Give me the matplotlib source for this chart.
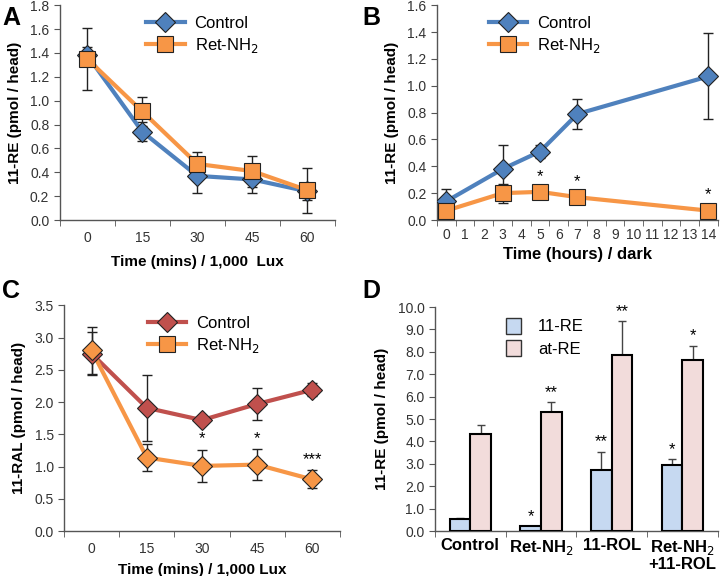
import matplotlib.pyplot as plt
import numpy as np
from matplotlib.lines import Line2D
from matplotlib.patches import Patch

plt.rcParams['font.family'] = ['Liberation Sans', 'DejaVu Sans']

# DATA
# Panel A - light, 11-RE
a_times = ['0', '15', '30', '45', '60']
a_ctrl = [1.38, 0.74, 0.37, 0.34, 0.24]
a_ctrl_err = [0.07, 0.08, 0.14, 0.11, 0.07]
a_ret = [1.35, 0.91, 0.47, 0.41, 0.25]
a_ret_err = [0.26, 0.12, 0.10, 0.13, 0.19]

# Panel B - dark, 11-RE
b_hours = [str(h) for h in range(15)]
b_x = [0, 3, 5, 7, 14]
b_ctrl = [0.14, 0.38, 0.51, 0.79, 1.07]
b_ctrl_err = [0.09, 0.18, 0.05, 0.11, 0.32]
b_ret = [0.07, 0.20, 0.21, 0.17, 0.07]
b_ret_err = [0.03, 0.07, 0.03, 0.03, 0.02]
b_stars = {5: '*', 7: '*', 14: '*'}

# Panel C - light, 11-RAL
c_times = ['0', '15', '30', '45', '60']
c_ctrl = [2.75, 1.91, 1.72, 1.97, 2.19]
c_ctrl_err = [0.33, 0.51, 0.05, 0.25, 0.10]
c_ret = [2.80, 1.14, 1.01, 1.03, 0.80]
c_ret_err = [0.36, 0.21, 0.25, 0.24, 0.14]
c_stars = ['', '', '*', '*', '***']

# Panel D - retinyl esters
d_groups = ['Control', 'Ret-NH$_2$', '11-ROL', 'Ret-NH$_2$\n+11-ROL']
d_11re = [0.52, 0.22, 2.72, 2.95]
d_11re_err = [0.05, 0.0, 0.83, 0.27]
d_atre = [4.32, 5.33, 7.86, 7.63]
d_atre_err = [0.43, 0.42, 1.50, 0.65]
d_11re_stars = ['', '*', '**', '*']
d_atre_stars = ['', '**', '**', '*']

blue = '#4F81BD'
orange = '#F79646'
red = '#C0504D'
tickcol = '#333333'

fig = plt.figure(figsize=(7.2, 5.76), dpi=100)


def style_axes(ax, ncat, ylim, yticks, yfmt):
	ax.spines['top'].set_visible(False)
	ax.spines['right'].set_visible(False)
	for s in ['left', 'bottom']:
		ax.spines[s].set_color('#555555')
		ax.spines[s].set_linewidth(1.0)
	ax.set_xlim(-0.5, ncat - 0.5)
	ax.set_ylim(*ylim)
	ax.set_yticks(yticks)
	ax.set_yticklabels([yfmt % v for v in yticks])
	ax.set_xticks(np.arange(ncat))
	ax.set_xticks(np.arange(ncat + 1) - 0.5, minor=True)
	ax.tick_params(axis='x', which='major', length=0, pad=8, labelsize=10, labelcolor=tickcol)
	ax.tick_params(axis='x', which='minor', length=4, color='#555555', direction='out')
	ax.tick_params(axis='y', length=4, color='#555555', labelsize=10, labelcolor=tickcol)


def line_legend(ax, c1, x0):
	h = [Line2D([], [], color=c1, lw=3, marker='D', ms=10, mfc=c1, mec='#222222', mew=0.8),
		 Line2D([], [], color=orange, lw=3, marker='s', ms=11, mfc=orange, mec='#222222', mew=0.8)]
	ax.legend(h, ['Control', 'Ret-NH$_2$'], loc='upper left', bbox_to_anchor=(x0, 1.02),
			  frameon=False, fontsize=12, handlelength=2.3, handletextpad=0.6, labelspacing=0.3)


def draw_series(ax, x, y, err, color, marker, ms):
	ax.errorbar(x, y, yerr=err, fmt='none', ecolor='#222222', elinewidth=1, capsize=3.5, capthick=1, zorder=2)
	ax.plot(x, y, color=color, lw=3, zorder=3)
	ax.plot(x, y, linestyle='none', marker=marker, ms=ms, mfc=color, mec='#222222', mew=0.8, zorder=4)


# PANEL A
ax = fig.add_axes([0.083, 0.618, 0.382, 0.373])
xa = np.arange(len(a_times))
draw_series(ax, xa, a_ctrl, a_ctrl_err, blue, 'D', 10)
draw_series(ax, xa, a_ret, a_ret_err, orange, 's', 12)
style_axes(ax, 5, (0, 1.8), np.arange(0, 1.81, 0.2), '%.1f')
ax.set_xticklabels(a_times)
ax.set_xlabel('Time (mins) / 1,000  Lux', fontsize=11, fontweight='bold', labelpad=7)
ax.set_ylabel('11-RE (pmol / head)', fontsize=11, fontweight='bold', labelpad=6)
line_legend(ax, blue, 0.26)
fig.text(0.003, 0.99, 'A', fontsize=18, fontweight='bold', va='top')

# PANEL B
ax = fig.add_axes([0.607, 0.618, 0.390, 0.373])
draw_series(ax, b_x, b_ctrl, b_ctrl_err, blue, 'D', 10)
draw_series(ax, b_x, b_ret, b_ret_err, orange, 's', 12)
for xi, s in b_stars.items():
	ax.text(xi, b_ret[b_x.index(xi)] + 0.06, s, ha='center', va='bottom', fontsize=12)
style_axes(ax, 15, (0, 1.6), np.arange(0, 1.61, 0.2), '%.1f')
ax.set_xticklabels(b_hours)
ax.tick_params(axis='x', which='major', pad=6)
ax.set_xlabel('Time (hours) / dark', fontsize=12, fontweight='bold', labelpad=3)
ax.set_ylabel('11-RE (pmol / head)', fontsize=11, fontweight='bold', labelpad=6)
line_legend(ax, blue, 0.13)
fig.text(0.503, 0.99, 'B', fontsize=18, fontweight='bold', va='top')

# PANEL C
ax = fig.add_axes([0.089, 0.078, 0.383, 0.392])
xc = np.arange(len(c_times))
draw_series(ax, xc, c_ctrl, c_ctrl_err, red, 'D', 10)
draw_series(ax, xc, c_ret, c_ret_err, orange, 'D', 10)
for xi, s in enumerate(c_stars):
	if s:
		ax.text(xi, c_ret[xi] + c_ret_err[xi] + 0.05, s, ha='center', va='bottom', fontsize=12)
style_axes(ax, 5, (0, 3.5), np.arange(0, 3.51, 0.5), '%.1f')
ax.set_xticklabels(c_times)
ax.set_xlabel('Time (mins) / 1,000 Lux', fontsize=11, fontweight='bold', labelpad=5)
ax.set_ylabel('11-RAL (pmol / head)', fontsize=11, fontweight='bold', labelpad=6)
line_legend(ax, red, 0.25)
fig.text(0.003, 0.515, 'C', fontsize=18, fontweight='bold', va='top')

# PANEL D
ax = fig.add_axes([0.604, 0.078, 0.393, 0.389])
xd = np.arange(len(d_groups))
w = 0.29
ax.bar(xd - w / 2, d_11re, w, color='#C6D9F1', edgecolor='black', lw=1.5, zorder=3)
ax.bar(xd + w / 2, d_atre, w, color='#F2DCDB', edgecolor='black', lw=1.5, zorder=3)
ax.errorbar(xd - w / 2, d_11re, yerr=[np.zeros(4), d_11re_err], fmt='none', ecolor='#444444',
			elinewidth=1, capsize=3, capthick=1, zorder=2)
ax.errorbar(xd + w / 2, d_atre, yerr=[np.zeros(4), d_atre_err], fmt='none', ecolor='#444444',
			elinewidth=1, capsize=3, capthick=1, zorder=2)
for i in range(4):
	if d_11re_stars[i]:
		ax.text(xd[i] - w / 2, d_11re[i] + d_11re_err[i] + 0.1, d_11re_stars[i], ha='center', va='bottom', fontsize=12)
	if d_atre_stars[i]:
		ax.text(xd[i] + w / 2, d_atre[i] + d_atre_err[i] + 0.1, d_atre_stars[i], ha='center', va='bottom', fontsize=12)
style_axes(ax, 4, (0, 10), np.arange(0, 10.01, 1.0), '%.1f')
ax.set_xticklabels(d_groups, fontsize=12, fontweight='bold', color='black', va='top', linespacing=1.0)
ax.tick_params(axis='x', which='major', pad=5, labelcolor='black')
ax.set_ylabel('11-RE (pmol / head)', fontsize=11, fontweight='bold', labelpad=6)
h = [Patch(facecolor='#C6D9F1', edgecolor='#333333', lw=1),
	 Patch(facecolor='#F2DCDB', edgecolor='#333333', lw=1)]
ax.legend(h, ['11-RE', 'at-RE'], loc='upper left', bbox_to_anchor=(0.2, 1.02), frameon=False,
		  fontsize=12, handlelength=0.9, handleheight=1.1, handletextpad=1.0, labelspacing=0.35)
fig.text(0.503, 0.515, 'D', fontsize=18, fontweight='bold', va='top')

plt.savefig('out.png', dpi=100)
